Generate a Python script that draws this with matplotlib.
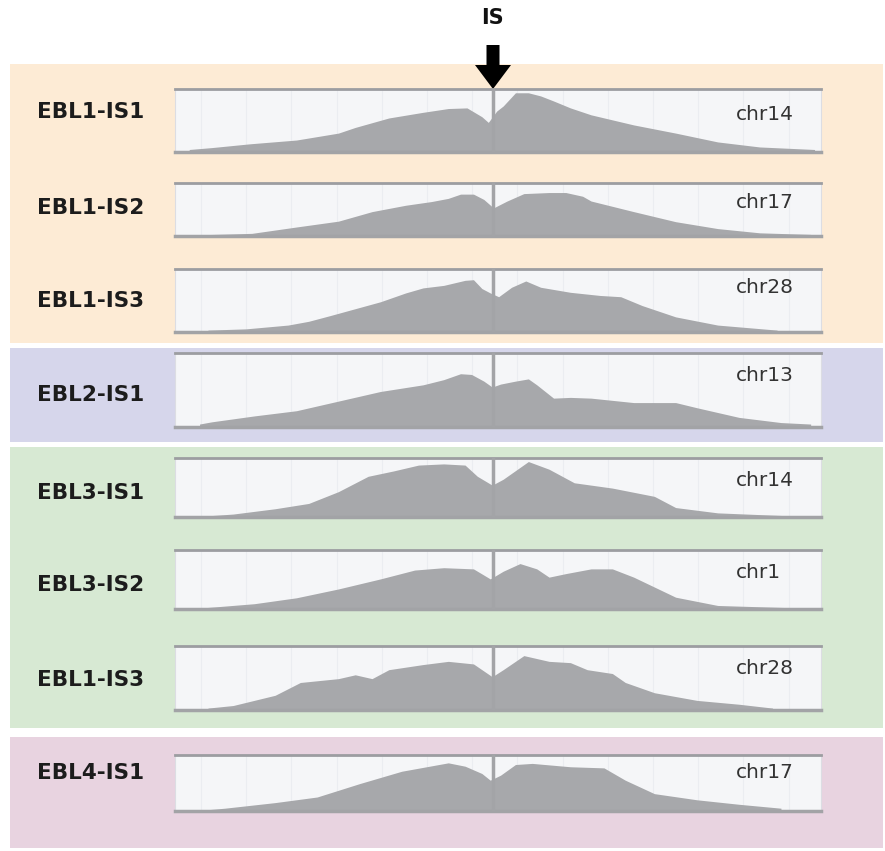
import matplotlib
matplotlib.use("Agg")
import matplotlib.pyplot as plt
from matplotlib.patches import Rectangle, FancyArrow

# sample names and chromosome of each integration site
sample_labels = ["EBL1-IS1", "EBL1-IS2", "EBL1-IS3", "EBL2-IS1",
                 "EBL3-IS1", "EBL3-IS2", "EBL1-IS3", "EBL4-IS1"]
chrom_labels = ["chr14", "chr17", "chr28", "chr13",
                "chr14", "chr1", "chr28", "chr17"]

# coverage profiles: position (% of window) and relative depth (%)
ebl1_is1_x = [2.2, 5.7, 11.6, 18.8, 25.3, 27.9, 33.1, 38.4, 42.3, 45.2, 47.5, 48.5, 49.8,
              50.8, 52.7, 54.7, 56.6, 58.6, 61.2, 64.4, 71.0, 77.5, 84.0, 90.5, 99.0]
ebl1_is1_y = [4, 7, 13, 19, 30, 39, 54, 63, 69, 70, 56, 47, 65,
              73, 94, 94, 89, 81, 70, 59, 43, 30, 16, 8, 4]

ebl1_is2_x = [0.2, 11.9, 18.8, 25.3, 30.5, 35.7, 39.7, 42.3, 44.2, 46.2, 47.8, 49.3,
              51.4, 54.0, 57.9, 60.5, 63.1, 64.4, 71.0, 77.5, 84.0, 90.5, 98.4]
ebl1_is2_y = [1, 5, 17, 28, 46, 58, 65, 71, 79, 79, 69, 53,
              66, 80, 82, 82, 75, 66, 46, 27, 14, 6, 3]

ebl1_is3_x = [5.1, 11.0, 17.5, 20.7, 24.0, 27.9, 31.8, 35.7, 38.4, 41.6, 44.9, 46.2, 47.5,
              48.8, 50.1, 52.1, 54.3, 56.6, 61.2, 65.8, 69.0, 72.3, 77.5, 84.0, 93.2]
ebl1_is3_y = [3, 5, 11, 17, 26, 37, 48, 62, 70, 74, 82, 83, 69,
              62, 56, 71, 81, 71, 63, 58, 56, 42, 24, 11, 3]

ebl2_is1_x = [3.8, 5.7, 12.3, 18.8, 25.3, 31.8, 38.4, 41.6, 44.2, 45.9, 47.8, 49.1, 50.4,
              52.7, 54.7, 56.0, 57.3, 58.6, 61.2, 64.4, 71.0, 77.5, 80.8, 87.3, 93.8, 98.4]
ebl2_is1_y = [4, 7, 15, 22, 35, 48, 57, 64, 72, 71, 62, 54, 58,
              62, 65, 57, 48, 39, 40, 39, 33, 33, 26, 13, 6, 4]

ebl3_is1_x = [5.1, 9.0, 15.5, 20.7, 25.3, 29.9, 33.8, 37.7, 41.6, 44.9, 46.8,
              49.1, 50.8, 54.7, 57.9, 61.8, 67.7, 74.2, 77.5, 84.0, 95.1]
ebl3_is1_y = [2, 5, 14, 23, 43, 69, 78, 88, 90, 88, 69,
              54, 64, 94, 81, 58, 49, 35, 16, 7, 2]

ebl3_is2_x = [4.4, 12.3, 18.8, 25.3, 31.8, 37.1, 41.6, 46.2, 48.8, 50.8,
              53.4, 56.0, 57.9, 60.5, 64.4, 67.7, 71.0, 77.5, 84.0, 95.8]
ebl3_is2_y = [2, 9, 19, 34, 51, 66, 70, 68, 51, 64,
              77, 68, 54, 60, 68, 68, 54, 20, 6, 2]

ebl1_is3b_x = [5.1, 9.0, 15.5, 19.4, 25.3, 27.9, 30.5, 33.1, 38.4, 42.3, 46.2, 49.1,
               50.8, 54.0, 57.9, 61.2, 63.8, 67.7, 69.7, 74.2, 80.8, 87.3, 92.5]
ebl1_is3b_y = [3, 7, 23, 43, 49, 55, 49, 63, 71, 76, 72, 52,
               63, 85, 76, 74, 63, 57, 43, 27, 15, 9, 3]

ebl4_is1_x = [3.8, 7.7, 15.5, 22.0, 28.6, 35.1, 42.3, 44.9, 47.5, 48.8,
              50.4, 52.7, 55.3, 61.2, 66.4, 69.7, 74.2, 80.8, 87.3, 93.8]
ebl4_is1_y = [1, 5, 15, 25, 49, 71, 86, 80, 67, 55,
              64, 83, 85, 79, 77, 55, 31, 20, 12, 5]

profiles = [(ebl1_is1_x, ebl1_is1_y), (ebl1_is2_x, ebl1_is2_y), (ebl1_is3_x, ebl1_is3_y),
            (ebl2_is1_x, ebl2_is1_y), (ebl3_is1_x, ebl3_is1_y), (ebl3_is2_x, ebl3_is2_y),
            (ebl1_is3b_x, ebl1_is3b_y), (ebl4_is1_x, ebl4_is1_y)]
is_position = 49.3

W, H = 885, 851
fig = plt.figure(figsize=(W / 100, H / 100), dpi=100)
fig.patch.set_facecolor("white")

# background layer in pixel units
bg = fig.add_axes([0, 0, 1, 1])
bg.set_xlim(0, W)
bg.set_ylim(H, 0)
bg.axis("off")

bands = [(64, 343, "#fdebd5"), (348, 442, "#d6d6eb"),
         (447, 728, "#d7e9d3"), (737, 848, "#e8d3e0")]
for top, bot, col in bands:
    bg.add_patch(Rectangle((10, top), 873, bot - top, color=col, lw=0))

bg.text(492, 18, "IS", ha="center", va="center", fontsize=15, fontweight="bold",
        color="#111111")
bg.add_patch(FancyArrow(493, 45, 0, 44, width=13, head_width=36, head_length=24,
                        length_includes_head=True, color="black", lw=0))

panel_rows = [(89, 152), (183, 236), (269, 332), (353, 427),
              (458, 517), (550, 609), (646, 710), (755, 811)]
label_y = [112, 208, 301, 395, 493, 585, 680, 773]
chrom_y = [114, 203, 287, 375, 481, 573, 669, 773]
px0, px1 = 175, 821

for i, (top, bot) in enumerate(panel_rows):
    ax = fig.add_axes([px0 / W, 1 - bot / H, (px1 - px0) / W, (bot - top) / H])
    ax.set_facecolor("#f5f6f8")
    for gx in range(4, 100, 7):
        ax.axvline(gx, color="#ebedf1", lw=0.8, zorder=0)
    xs, ys = profiles[i]
    ax.fill_between(xs, 0, ys, color="#a7a8ab", lw=0, zorder=2)
    ax.axvline(is_position, color="#a3a4a7", lw=2.5, zorder=3)
    ax.set_xlim(0, 100)
    ax.set_ylim(0, 100)
    ax.set_xticks([])
    ax.set_yticks([])
    for side in ["left", "right"]:
        ax.spines[side].set_color("#dcdde3")
        ax.spines[side].set_linewidth(0.8)
    ax.spines["top"].set_color("#9c9da1")
    ax.spines["top"].set_linewidth(2)
    ax.spines["bottom"].set_color("#a2a3a6")
    ax.spines["bottom"].set_linewidth(2.5)

    bg.text(37, label_y[i], sample_labels[i], ha="left", va="center",
            fontsize=15.5, fontweight="bold", color="#1c1c1c")
    fig.text(736 / W, 1 - chrom_y[i] / H, chrom_labels[i], ha="left", va="center",
             fontsize=14.5, color="#333333", zorder=10)

fig.savefig("out.png", dpi=100, facecolor="white")
